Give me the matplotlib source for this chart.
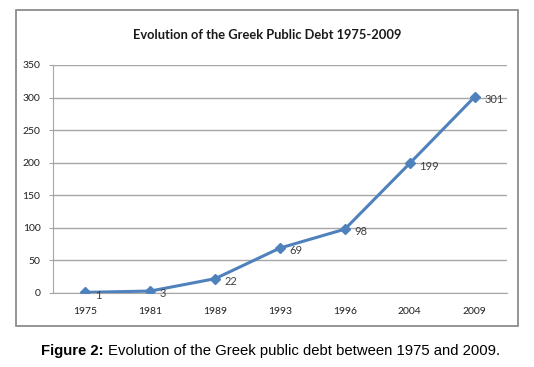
import matplotlib
matplotlib.use('Agg')
import matplotlib.pyplot as plt
from matplotlib.patches import Rectangle

W, H = 534, 367

years = ['1975', '1981', '1989', '1993', '1996', '2004', '2009']
debt = [1, 3, 22, 69, 98, 199, 301]
y_ticks = [0, 50, 100, 150, 200, 250, 300, 350]

blue = '#4F81BD'
grid_c = '#A6A6A6'

fig = plt.figure(figsize=(W / 100, H / 100), dpi=100)

# chart frame (excel style box)
fig.patches.append(Rectangle((16 / W, (H - 326) / H), 502 / W, 316 / H,
                             transform=fig.transFigure, fill=False,
                             edgecolor='#8C8C8C', lw=1.3))

ax = fig.add_axes([53 / W, (H - 293) / H, 454 / W, 228 / H])
x = list(range(len(years)))
ax.plot(x, debt, color=blue, lw=2.2, marker='D', ms=5.5, zorder=3)
for xi, v in zip(x, debt):
    ax.annotate(str(v), (xi, v), xytext=(7, -2), textcoords='offset points',
                ha='left', va='center', fontsize=8, color='#404040',
                family='Lato', zorder=4)

ax.set_xlim(-0.5, len(years) - 0.5)
ax.set_ylim(0, 350)
ax.set_yticks(y_ticks)
ax.set_xticks(x)
ax.set_xticklabels(years)
ax.yaxis.grid(True, color=grid_c, lw=1)
ax.set_axisbelow(True)
for s in ['top', 'right']:
    ax.spines[s].set_visible(False)
ax.spines['left'].set_color(grid_c)
ax.spines['bottom'].set_color(grid_c)
ax.tick_params(axis='y', length=3, color=grid_c, pad=6, labelsize=7.5,
               labelcolor='#202020')
ax.tick_params(axis='x', length=0, pad=10, labelsize=7.5, labelcolor='#202020')
for lab in ax.get_xticklabels() + ax.get_yticklabels():
    lab.set_family('Lato')

fig.text(267 / W, (H - 35) / H, 'Evolution of the Greek Public Debt 1975-2009',
         ha='center', va='center', fontsize=9.3, fontweight='bold',
         family='Lato', color='#1A1A1A')

# caption, bold part then regular part
cy = (H - 351) / H
t1 = fig.text(41 / W, cy, 'Figure 2:', ha='left', va='center', fontsize=10.7,
              fontweight='bold', family='Liberation Sans')
r = fig.canvas.get_renderer()
bb = t1.get_window_extent(r)
fig.text((bb.x1 + 4) / W, cy, 'Evolution of the Greek public debt between 1975 and 2009.',
         ha='left', va='center', fontsize=10.7, family='Liberation Sans')

fig.savefig('out.png', dpi=100)
